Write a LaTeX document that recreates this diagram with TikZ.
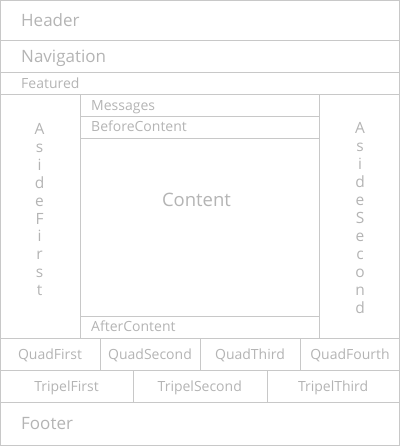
\documentclass[tikz,border=0pt]{standalone}
\usepackage{fontspec}
\setmainfont{Open Sans}
\definecolor{rule}{HTML}{C8C8C8}
\definecolor{ink}{HTML}{B4B4B4}
\begin{document}
\begin{tikzpicture}[x=1pt,y=1pt,
  box/.style={draw=rule, line width=1pt},
  big/.style={text=ink, inner sep=0pt, font=\fontsize{17}{20}\selectfont},
  small/.style={text=ink, inner sep=0pt, font=\fontsize{14}{16}\selectfont},
  letter/.style={text=ink, inner sep=0pt, anchor=base, font=\fontsize{15.5}{18}\selectfont}]
\useasboundingbox (0,0) rectangle (400,-446);
% Frame and full-width rows
\draw[box] (0.5,-0.5) rectangle (399.5,-445.5);
\foreach \y in {40.5,72.5,94.5,338.5,370.5,402.5} {
  \draw[box] (0,-\y) -- (400,-\y);
}
% Main area: asides and content rows
\draw[box] (80.5,-94.5) -- (80.5,-338.5);
\draw[box] (319.5,-94.5) -- (319.5,-338.5);
\foreach \y in {116.5,138.5,316.5} {
  \draw[box] (80.5,-\y) -- (319.5,-\y);
}
% Quad and tripel cells
\foreach \x in {100.5,200.5,300.5} {
  \draw[box] (\x,-338.5) -- (\x,-370.5);
}
\foreach \x in {133,267} {
  \draw[box] (\x,-370.5) -- (\x,-402.5);
}
% Row labels
\node[big, anchor=base west] (header) at (21,-26.7) {Header};
\node[big, anchor=base west] (navigation) at (21,-62.3) {Navigation};
\node[small, anchor=base west] (featured) at (21,-88.3) {Featured};
\node[small, anchor=base west] (messages) at (91,-110.7) {Messages};
\node[small, anchor=base west] (beforecontent) at (91,-131.7) {BeforeContent};
\node[big, anchor=base, font=\fontsize{18.5}{22}\selectfont] (content) at (196.5,-206) {Content};
\node[small, anchor=base west] (aftercontent) at (91,-331.7) {AfterContent};
\node[big, anchor=base west] (footer) at (21,-429) {Footer};
% Quad labels
\foreach \lab [count=\k from 0] in {QuadFirst,QuadSecond,QuadThird,QuadFourth} {
  \node[small, anchor=base] (quad\k) at (50+\k*100,-359.3) {\lab};
}
% Tripel labels
\foreach \lab [count=\k from 0] in {TripelFirst,TripelSecond,TripelThird} {
  \node[small, anchor=base] (tripel\k) at (66.5+\k*133.3,-391.7) {\lab};
}
% Asides, one letter per line
\foreach \c [count=\k from 0] in {A,s,i,d,e,F,i,r,s,t} {
  \node[letter] (asidefirst\k) at (39.5,-134.5-\k*17.9) {\c};
}
\foreach \c [count=\k from 0] in {A,s,i,d,e,S,e,c,o,n,d} {
  \node[letter] (asidesecond\k) at (360,-134-\k*17.93) {\c};
}
\end{tikzpicture}
\end{document}
